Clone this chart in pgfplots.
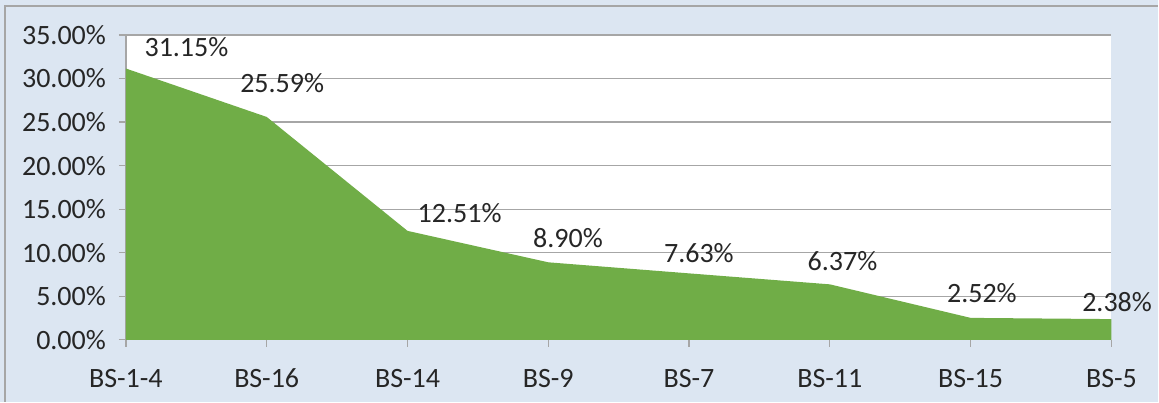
\documentclass[border=0pt]{standalone}
\usepackage{pgfplots}
\pgfplotsset{compat=1.18}
\usepackage{fontspec}
\setmainfont{Carlito}
\definecolor{bgblue}{HTML}{DCE6F2}
\definecolor{areagreen}{HTML}{70AD47}
\definecolor{gridgray}{HTML}{A6A6A6}
\begin{document}
\begin{tikzpicture}[font=\fontsize{14pt}{16pt}\selectfont]
\fill[bgblue] (-63pt,-31pt) rectangle (516.5pt,170pt);
\draw[gridgray, line width=0.6pt] (-60.5pt,-31pt) -- (-60.5pt,167pt) -- (516.5pt,167pt);
\useasboundingbox (-63pt,-31pt) rectangle (516.5pt,170pt);
\begin{axis}[
  at={(0,0)}, anchor=south west,
  scale only axis, width=493pt, height=152.5pt,
  xmin=0, xmax=7, ymin=0, ymax=35,
  axis background/.style={fill=white},
  axis lines=left,
  axis line style={gridgray, line width=0.6pt, -},
  xtick={0,1,2,3,4,5,6,7},
  xticklabels={BS-1-4,BS-16,BS-14,BS-9,BS-7,BS-11,BS-15,BS-5},
  ytick={0,5,10,15,20,25,30,35},
  yticklabels={0.00\%,5.00\%,10.00\%,15.00\%,20.00\%,25.00\%,30.00\%,35.00\%},
  ymajorgrids,
  grid style={gridgray, line width=0.6pt},
  tick style={gridgray, line width=0.6pt},
  tick align=outside,
  major tick length=3.5pt,
  xticklabel style={yshift=-7.5pt, text=black!85, font=\fontsize{14pt}{16pt}\selectfont},
  yticklabel style={xshift=-3pt, text=black!85, font=\fontsize{14pt}{16pt}\selectfont},
  clip=false,
]
\addplot[fill=areagreen, draw=none] coordinates {
  (0,31.15) (1,25.59) (2,12.51) (3,8.90) (4,7.63) (5,6.37) (6,2.52) (7,2.38)
} \closedcycle;
\draw[gridgray, line width=0.6pt] (axis cs:0,35) -- (axis cs:7,35);
\node[text=black!85] at (axis cs:0.43,33.6) {31.15\%};
\node[text=black!85] at (axis cs:1.11,29.5) {25.59\%};
\node[text=black!85] at (axis cs:2.37,14.6) {12.51\%};
\node[text=black!85] at (axis cs:3.14,11.7) {8.90\%};
\node[text=black!85] at (axis cs:4.07,10.0) {7.63\%};
\node[text=black!85] at (axis cs:5.09,9.07) {6.37\%};
\node[text=black!85] at (axis cs:6.08,5.39) {2.52\%};
\node[text=black!85] at (axis cs:7.04,4.36) {2.38\%};
\end{axis}
\end{tikzpicture}
\end{document}
